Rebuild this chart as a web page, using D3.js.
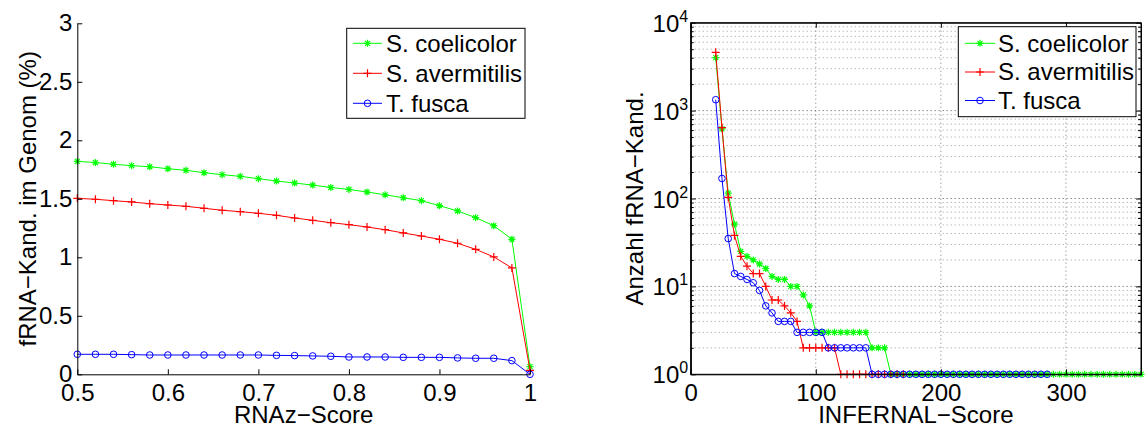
<!DOCTYPE html>
<html><head><meta charset="utf-8">
<script src="https://cdn.jsdelivr.net/npm/d3@7/dist/d3.min.js"></script>
<style>
body{margin:0;background:#fff}
svg{display:block}
text{font-family:"Liberation Sans",Arial,Helvetica,sans-serif;fill:#000}
</style>
</head><body>
<svg id="chart" width="1148" height="428"></svg>
<script>
// ---------------- data ----------------
const seriesNames = ["S. coelicolor", "S. avermitilis", "T. fusca"];
const seriesColors = ["#00ff00", "#ff0000", "#0000ff"];
const seriesMarkers = ["star", "plus", "circle"];

// left panel: RNAz score vs. fraction of genome (%)
const rnazScores = [0.50,0.52,0.54,0.56,0.58,0.60,0.62,0.64,0.66,0.68,0.70,0.72,0.74,0.76,0.78,0.80,0.82,0.84,0.86,0.88,0.90,0.92,0.94,0.96,0.98,1.00];
const rnazCoelicolor = [1.82,1.81,1.795,1.783,1.774,1.757,1.744,1.723,1.706,1.692,1.672,1.652,1.635,1.617,1.597,1.580,1.558,1.534,1.509,1.484,1.441,1.396,1.339,1.270,1.154,0.065];
const rnazAvermitilis = [1.504,1.496,1.484,1.473,1.458,1.447,1.436,1.419,1.402,1.390,1.376,1.359,1.336,1.316,1.296,1.279,1.259,1.236,1.208,1.182,1.154,1.120,1.068,1.003,0.909,0.034];
const rnazFusca = [0.171,0.171,0.171,0.168,0.165,0.165,0.165,0.165,0.165,0.165,0.165,0.162,0.160,0.157,0.154,0.148,0.148,0.148,0.145,0.145,0.145,0.140,0.137,0.137,0.117,0.0];
const rnazXTicks = [0.5,0.6,0.7,0.8,0.9,1.0];
const rnazXTickLabels = ["0.5","0.6","0.7","0.8","0.9","1"];
const rnazYTicks = [0,0.5,1,1.5,2,2.5,3];
const rnazYTickLabels = ["0","0.5","1","1.5","2","2.5","3"];

// right panel: INFERNAL score vs. number of candidates
const infernalScores = [20,25,30,35,40,45,50,55,60,65,70,75,80,85,90,95,100,105,110,115,120,125,130,135,140,145,150,155,160,165,170,175,180,185,190,195,200,205,210,215,220,225,230,235,240,245,250,255,260,265,270,275,280,285,290,295,300,305,310,315,320,325,330,335,340,345,350,355,360];
const infernalCoelicolor = [4000,620,115,51,25,22,20,18,16,13,12,12,10,10,8,6,3,3,3,3,3,3,3,3,3,2,2,2,1,1,1,1,1,1,1,1,1,1,1,1,1,1,1,1,1,1,1,1,1,1,1,1,1,1,1,1,1,1,1,1,1,1,1,1,1,1,1,1,1];
const infernalAvermitilis = [4600,640,103,38,22,17,14,14,10,7,7,6,5,4,2,2,2,2,2,2,1,1,1,1,1,1,1,1,1,1,1];
const infernalFusca = [1330,169,35,14,13,12,11,9,6,5,4,4,4,3,3,3,3,3,2,2,2,2,2,2,2,1,1,1,1,1,1,1,1,1,1,1,1,1,1,1,1,1,1,1,1,1,1,1,1,1,1,1,1,1];
const infernalXTicks = [0,100,200,300];
const infernalYTicks = [1,10,100,1000,10000];
const infernalYExponents = ["0","1","2","3","4"];

const leftXLabel = "RNAz\u2212Score";
const leftYLabel = "fRNA\u2212Kand. im Genom (%)";
const rightXLabel = "INFERNAL\u2212Score";
const rightYLabel = "Anzahl fRNA\u2212Kand.";

// ---------------- drawing ----------------
const svg = d3.select("#chart");
const FS = 24;

function drawMarker(g, type, color, x, y) {
  if (type === "circle") {
    g.append("circle").attr("cx", x).attr("cy", y).attr("r", 3.3)
      .attr("fill", "none").attr("stroke", color).attr("stroke-width", 1);
  } else if (type === "plus") {
    g.append("path").attr("d", `M${x-4},${y}H${x+4}M${x},${y-4}V${y+4}`)
      .attr("stroke", color).attr("stroke-width", 1.2).attr("fill", "none");
  } else {
    const r = 3.5, d = 2.5;
    g.append("path").attr("d", `M${x-r},${y}H${x+r}M${x},${y-r}V${y+r}M${x-d},${y-d}L${x+d},${y+d}M${x-d},${y+d}L${x+d},${y-d}`)
      .attr("stroke", color).attr("stroke-width", 1.2).attr("fill", "none");
  }
}

function drawSeries(g, xs, ys, xScale, yScale, color, marker) {
  const pts = ys.map((v, i) => [xs[i], v]);
  const line = d3.line().x(d => xScale(d[0])).y(d => yScale(d[1]));
  g.append("path").datum(pts).attr("d", line).attr("fill", "none")
    .attr("stroke", color).attr("stroke-width", 1);
  const mg = g.append("g");
  pts.forEach(d => drawMarker(mg, marker, color, xScale(d[0]), yScale(d[1])));
}

function drawLegend(g, x, y, w, h, lineX0, lineX1, textX, rows) {
  g.append("rect").attr("x", x).attr("y", y).attr("width", w).attr("height", h)
    .attr("fill", "#fff").attr("stroke", "#000").attr("stroke-width", 1);
  seriesNames.forEach((name, i) => {
    const ry = rows[i];
    g.append("line").attr("x1", lineX0).attr("x2", lineX1).attr("y1", ry).attr("y2", ry)
      .attr("stroke", seriesColors[i]).attr("stroke-width", 1);
    drawMarker(g, seriesMarkers[i], seriesColors[i], (lineX0 + lineX1) / 2, ry);
    g.append("text").attr("x", textX).attr("y", ry).attr("dy", "0.35em")
      .attr("font-size", FS).text(name);
  });
}

// ---- Left panel ----
const L = {left: 77.3, right: 530, top: 23.3, bottom: 374.3};
const xL = d3.scaleLinear().domain([0.5, 1]).range([L.left, L.right]);
const yL = d3.scaleLinear().domain([0, 3]).range([L.bottom, L.top]);
const gL = svg.append("g");

const seriesL = [rnazCoelicolor, rnazAvermitilis, rnazFusca];
seriesL.forEach((s, i) => drawSeries(gL, rnazScores, s, xL, yL, seriesColors[i], seriesMarkers[i]));

const axLx = gL.append("g").attr("transform", `translate(0,${L.bottom})`)
  .call(d3.axisBottom(xL).tickValues(rnazXTicks).tickFormat((d, i) => rnazXTickLabels[i])
    .tickSizeInner(-5).tickSizeOuter(0).tickPadding(10));
const axLy = gL.append("g").attr("transform", `translate(${L.left},0)`)
  .call(d3.axisLeft(yL).tickValues(rnazYTicks).tickFormat((d, i) => rnazYTickLabels[i])
    .tickSizeInner(-5).tickSizeOuter(0).tickPadding(5));
[axLx, axLy].forEach(a => {
  a.selectAll("text").attr("font-size", FS).attr("font-family", null);
  a.selectAll("path,line").attr("stroke", "#000");
});

gL.append("text").attr("x", (L.left + L.right) / 2).attr("y", 423).attr("text-anchor", "middle")
  .attr("font-size", FS).text(leftXLabel);
gL.append("text").attr("transform", `translate(36,${(L.top + L.bottom) / 2}) rotate(-90)`)
  .attr("text-anchor", "middle").attr("font-size", FS).text(leftYLabel);

drawLegend(gL, 346.7, 28.3, 178.3, 90, 353, 382, 386, [43.3, 73.3, 103.3]);

// ---- Right panel ----
const R = {left: 690.7, right: 1141, top: 22.7, bottom: 374.3};
const xR = d3.scaleLinear().domain([0, 360]).range([R.left, R.right]);
const yR = d3.scaleLog().domain([1, 10000]).range([R.bottom, R.top]);
const gR = svg.append("g");

// grid
const gridG = gR.append("g");
const minorVals = [];
infernalYTicks.slice(0, -1).forEach(dec => { for (let k = 2; k <= 9; k++) minorVals.push(dec * k); });
minorVals.forEach(v => {
  gridG.append("line").attr("x1", R.left).attr("x2", R.right).attr("y1", yR(v)).attr("y2", yR(v))
    .attr("stroke", "#999").attr("stroke-dasharray", "1,3").attr("stroke-width", 1);
});
infernalYTicks.slice(1, -1).forEach(v => {
  gridG.append("line").attr("x1", R.left).attr("x2", R.right).attr("y1", yR(v)).attr("y2", yR(v))
    .attr("stroke", "#555").attr("stroke-dasharray", "1,3").attr("stroke-width", 1);
});
infernalXTicks.slice(1).forEach(v => {
  gridG.append("line").attr("x1", xR(v)).attr("x2", xR(v)).attr("y1", R.top).attr("y2", R.bottom)
    .attr("stroke", "#777").attr("stroke-dasharray", "1,3").attr("stroke-width", 1);
});

const seriesR = [infernalCoelicolor, infernalAvermitilis, infernalFusca];
seriesR.forEach((s, i) => drawSeries(gR, infernalScores, s, xR, yR, seriesColors[i], seriesMarkers[i]));

// box
gR.append("rect").attr("x", R.left).attr("y", R.top).attr("width", R.right - R.left)
  .attr("height", R.bottom - R.top).attr("fill", "none").attr("stroke", "#000").attr("stroke-width", 1);

const axRx = gR.append("g").attr("transform", `translate(0,${R.bottom})`)
  .call(d3.axisBottom(xR).tickValues(infernalXTicks).tickFormat(d3.format("d"))
    .tickSizeInner(-5).tickSizeOuter(0).tickPadding(10));
const axRxTop = gR.append("g").attr("transform", `translate(0,${R.top})`)
  .call(d3.axisTop(xR).tickValues(infernalXTicks).tickFormat("")
    .tickSizeInner(-5).tickSizeOuter(0));
const axRy = gR.append("g").attr("transform", `translate(${R.left},0)`)
  .call(d3.axisLeft(yR).tickValues(infernalYTicks).tickFormat("")
    .tickSizeInner(-5).tickSizeOuter(0).tickPadding(3));
const axRyMinor = gR.append("g").attr("transform", `translate(${R.left},0)`)
  .call(d3.axisLeft(yR).tickValues(minorVals).tickFormat("").tickSizeInner(-3).tickSizeOuter(0));
const axRyR = gR.append("g").attr("transform", `translate(${R.right},0)`)
  .call(d3.axisRight(yR).tickValues(infernalYTicks).tickFormat("").tickSizeInner(-5).tickSizeOuter(0));
const axRyRMinor = gR.append("g").attr("transform", `translate(${R.right},0)`)
  .call(d3.axisRight(yR).tickValues(minorVals).tickFormat("").tickSizeInner(-3).tickSizeOuter(0));
[axRx, axRxTop, axRy, axRyMinor, axRyR, axRyRMinor].forEach(a => {
  a.selectAll("text").attr("font-size", FS).attr("font-family", null);
  a.selectAll("path,line").attr("stroke", "#000");
});

// y tick labels 10^n
axRy.selectAll(".tick").each(function(d, i) {
  const t = d3.select(this).select("text");
  t.text(null).attr("x", -2.5).attr("dy", null).attr("y", 8.5).attr("text-anchor", "end");
  t.append("tspan").attr("font-size", FS).text("10");
  t.append("tspan").attr("font-size", 16).attr("dy", -10).text(infernalYExponents[i]);
});

gR.append("text").attr("x", (R.left + R.right) / 2).attr("y", 423).attr("text-anchor", "middle")
  .attr("font-size", FS).text(rightXLabel);
gR.append("text").attr("transform", `translate(643,${(R.top + R.bottom) / 2}) rotate(-90)`)
  .attr("text-anchor", "middle").attr("font-size", FS).text(rightYLabel);

drawLegend(gR, 958.3, 26.7, 177.7, 90, 965, 995, 998, [43.3, 72, 100.5]);
</script>
</body></html>
